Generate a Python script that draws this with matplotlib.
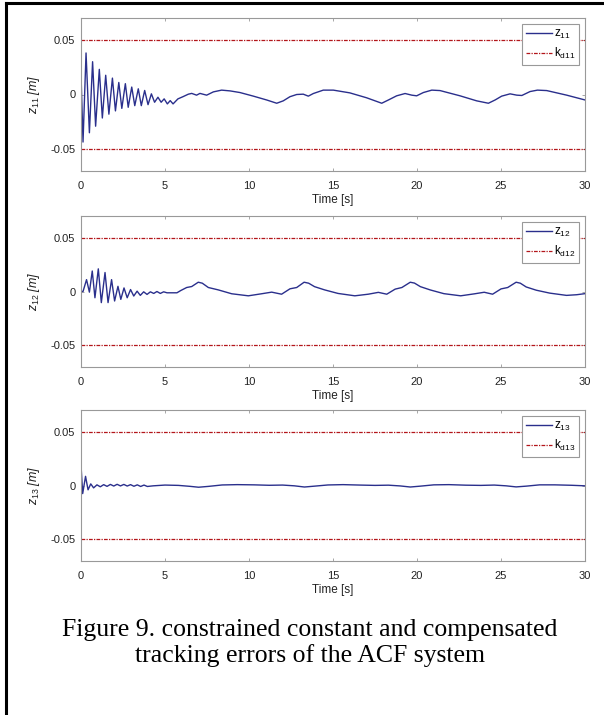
import matplotlib
matplotlib.use('Agg')
import matplotlib.pyplot as plt
from matplotlib.lines import Line2D

plt.rcParams['font.family'] = ['Liberation Sans', 'DejaVu Sans']
plt.rcParams['mathtext.fontset'] = 'custom'
plt.rcParams['mathtext.rm'] = 'Liberation Sans'
plt.rcParams['mathtext.it'] = 'Liberation Sans:italic'

# tracking error z11 (time [s], error [m])
t11 = [0, 0.12, 0.30, 0.50, 0.69, 0.87, 1.09, 1.27, 1.47, 1.66, 1.87, 2.05, 2.25, 2.43,
       2.64, 2.81, 3.02, 3.20, 3.41, 3.59, 3.79, 3.99, 4.19, 4.38, 4.58, 4.77, 4.95, 5.14,
       5.31, 5.48, 5.77, 6.07, 6.39, 6.59, 6.88, 7.08, 7.48, 7.88, 8.37, 8.87, 9.46, 10.26,
       11.05, 11.65, 12.04, 12.44, 12.84, 13.23, 13.53, 13.83, 14.42, 15.02, 16.0, 17.0,
       17.9, 18.3, 18.79, 19.29, 19.69, 19.98, 20.38, 20.88, 21.37, 22.56, 23.55, 24.25,
       24.65, 25.04, 25.54, 25.94, 26.24, 26.73, 27.17, 27.72, 28.91, 30.0]
z11 = [0.019, -0.0435, 0.038, -0.035, 0.030, -0.029, 0.023, -0.0215, 0.0176, -0.018,
       0.015, -0.015, 0.011, -0.0127, 0.0099, -0.0117, 0.0068, -0.0102, 0.0052, -0.0102,
       0.0037, -0.0093, 0.0006, -0.0071, -0.0025, -0.0071, -0.004, -0.0086, -0.0056, -0.0086,
       -0.004, -0.002, 0.0003, 0.001, -0.0006, 0.001, -0.0006, 0.0024, 0.004, 0.0033,
       0.0018, -0.0015, -0.005, -0.008, -0.0058, -0.002, 0.0, 0.0003, -0.0015, 0.0009,
       0.004, 0.004, 0.0015, -0.003, -0.008, -0.005, -0.0012, 0.0009, -0.0006, -0.0012,
       0.0018, 0.004, 0.0036, -0.0012, -0.0058, -0.008, -0.005, -0.0015, 0.0006, -0.0006,
       -0.0009, 0.0027, 0.004, 0.0036, -0.0006, -0.005]

# tracking error z12
t12 = [0, 0.12, 0.33, 0.50, 0.67, 0.83, 1.03, 1.21, 1.43, 1.61, 1.82, 2.0, 2.2, 2.37,
       2.56, 2.75, 2.95, 3.14, 3.34, 3.53, 3.73, 3.93, 4.13, 4.33, 4.52, 4.72, 4.92, 5.12,
       5.42, 5.71, 5.95, 6.29, 6.59, 6.98, 7.22, 7.58, 8.17, 8.97, 9.96, 10.75, 11.35,
       11.94, 12.44, 12.84, 13.28, 13.55, 13.9, 14.5, 15.3, 16.3, 17.1, 17.7, 18.2, 18.7,
       19.1, 19.6, 19.85, 20.2, 20.8, 21.6, 22.6, 23.4, 24.0, 24.5, 25.0, 25.4, 25.9,
       26.15, 26.5, 27.1, 27.9, 28.9, 29.5, 30.0]
z12 = [0.0, 0.0, 0.011, -0.0006, 0.019, -0.0058, 0.021, -0.0103, 0.0176, -0.0103,
       0.011, -0.0088, 0.0048, -0.0073, 0.0033, -0.0058, 0.0018, -0.0042, 0.0003, -0.0036,
       -0.0003, -0.0027, -0.0003, -0.0018, 0.0, -0.0018, -0.0003, -0.0012, -0.0012, -0.0012,
       0.001, 0.0037, 0.0046, 0.0086, 0.0077, 0.0037, 0.0015, -0.0021, -0.004, -0.0021,
       -0.0006, -0.0025, 0.0025, 0.0037, 0.0086, 0.0077, 0.0045, 0.0015, -0.0018, -0.004,
       -0.0025, -0.0008, -0.0025, 0.0022, 0.0037, 0.0086, 0.0078, 0.0045, 0.0014, -0.002,
       -0.004, -0.0022, -0.0007, -0.0025, 0.0024, 0.0037, 0.0086, 0.0077, 0.0042, 0.0012,
       -0.0015, -0.0036, -0.003, -0.002]

# tracking error z13
t13 = [0, 0.1, 0.27, 0.42, 0.58, 0.75, 0.95, 1.15, 1.35, 1.55, 1.75, 1.95, 2.15, 2.35,
       2.55, 2.75, 2.95, 3.15, 3.35, 3.55, 3.75, 3.95, 4.3, 5.0, 5.8, 6.5, 7.0, 7.6, 8.4,
       9.3, 10.3, 11.2, 12.0, 12.7, 13.3, 13.9, 14.7, 15.6, 16.6, 17.5, 18.3, 19.0, 19.6,
       20.2, 21.0, 21.9, 22.9, 23.8, 24.6, 25.3, 25.9, 26.5, 27.3, 28.2, 29.2, 30.0]
z13 = [0.019, -0.0075, 0.0085, -0.004, 0.0015, -0.0022, 0.0006, -0.0012, 0.0008, -0.0008,
       0.001, -0.0005, 0.0011, -0.0004, 0.001, -0.0005, 0.0008, -0.0007, 0.0006, -0.0009,
       0.0004, -0.0009, -0.0003, 0.0004, 0.0001, -0.0008, -0.0016, -0.0008, 0.0005, 0.0008,
       0.0006, 0.0002, 0.0004, -0.0003, -0.0014, -0.0006, 0.0005, 0.0008, 0.0004, 0.0001,
       0.0003, -0.0004, -0.0014, -0.0006, 0.0006, 0.0008, 0.0003, 0.0001, 0.0004, -0.0003,
       -0.0013, -0.0006, 0.0006, 0.0006, 0.0002, -0.0003]

# constant constraint bounds k_d
t_kd = [0, 30]
kd_upper = [0.05, 0.05]
kd_lower = [-0.05, -0.05]

series = [(t11, z11, '11'), (t12, z12, '12'), (t13, z13, '13')]
xticks = [0, 5, 10, 15, 20, 25, 30]
yticks = [-0.05, 0, 0.05]
ytick_labels = ['-0.05', '0', '0.05']

blue = '#2a2f8c'
red = '#b3161b'
grey = '#999999'

W, H = 604, 715
fig = plt.figure(figsize=(W / 100, H / 100), dpi=100)

# axes boxes in pixels: (left, top, right, bottom)
boxes = [(81, 18, 585, 171), (81, 216, 585, 367), (81, 410, 585, 561)]

for (t, z, idx), (l, tp, r, b) in zip(series, boxes):
    ax = fig.add_axes([l / W, 1 - b / H, (r - l) / W, (b - tp) / H])
    ax.plot(t, z, color=blue, lw=1.0, label=r'$\mathregular{z_{%s}}$' % idx)
    ax.plot(t_kd, kd_upper, color=red, lw=0.9, ls='-.', dashes=(3, 1, 1, 1),
            label=r'$\mathregular{k_{d%s}}$' % idx)
    ax.plot(t_kd, kd_lower, color=red, lw=0.9, ls='-.', dashes=(3, 1, 1, 1))
    ax.set_xlim(0, 30)
    ax.set_ylim(-0.07, 0.07)
    ax.set_xticks(xticks)
    ax.set_xticklabels([str(v) for v in xticks])
    ax.set_yticks(yticks)
    ax.set_yticklabels(ytick_labels)
    ax.tick_params(direction='in', length=2.5, width=0.6, color=grey,
                   top=True, right=True, labelsize=8, labelcolor='#222222')
    ax.tick_params(axis='x', pad=7)
    ax.tick_params(axis='y', pad=4)
    for sp in ax.spines.values():
        sp.set_color(grey)
        sp.set_linewidth(0.8)
    ax.set_xlabel('Time [s]', fontsize=8.5, color='#222222', labelpad=2)
    ax.set_ylabel(r'$z_{%s}$ [m]' % idx, fontsize=9, style='italic',
                  color='#222222', labelpad=6)
    leg = ax.legend(loc='upper right', fontsize=8.5, handlelength=2.2,
                    handletextpad=0.15, borderpad=0.35, labelspacing=0.4,
                    borderaxespad=0.5, fancybox=False, framealpha=1)
    leg.get_frame().set_edgecolor(grey)
    leg.get_frame().set_linewidth(0.8)

fig.text(0.513, 1 - 643 / H,
         'Figure 9. constrained constant and compensated\ntracking errors of the ACF system',
         ha='center', va='center', fontsize=18.5, linespacing=1.2,
         family=['Liberation Serif', 'DejaVu Serif'])

# page frame
fig.add_artist(Line2D([5.5 / W, 5.5 / W], [0, 1 - 2.5 / H], transform=fig.transFigure,
                      color='black', lw=2.2))
fig.add_artist(Line2D([5.5 / W, 1], [1 - 2.5 / H, 1 - 2.5 / H], transform=fig.transFigure,
                      color='black', lw=2.2))

fig.savefig('out.png', dpi=100)
